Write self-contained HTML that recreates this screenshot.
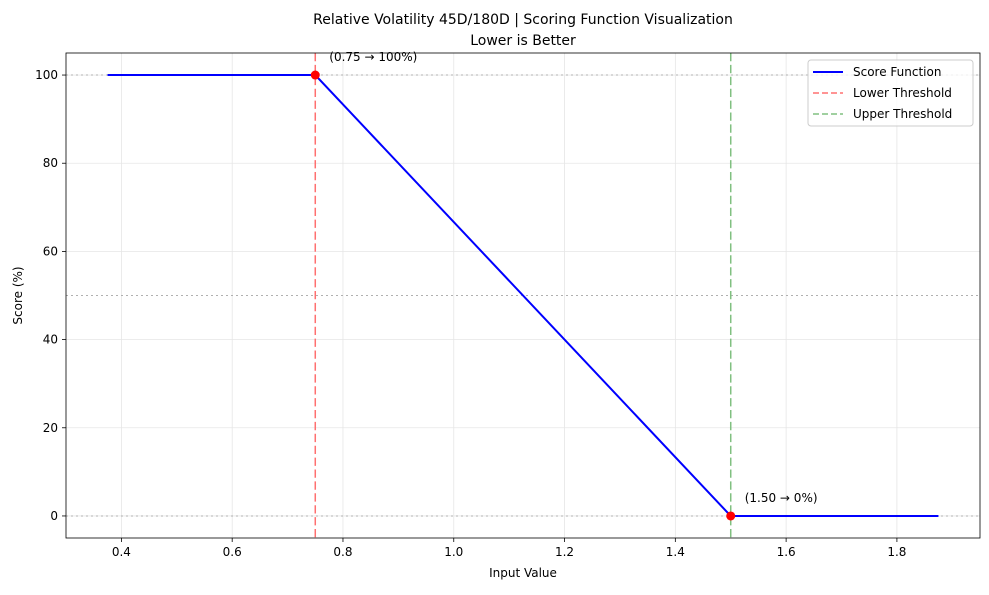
<!DOCTYPE html>
<html><head><meta charset="utf-8"><style>
body{margin:0;background:#fff;font-family:"Liberation Sans","DejaVu Sans",sans-serif}
svg text{font-family:"DejaVu Sans","Liberation Sans",sans-serif}
</style></head><body>
<svg id="c" width="989" height="590" xmlns="http://www.w3.org/2000/svg"></svg>
<script>
const xTicks=[0.4,0.6,0.8,1.0,1.2,1.4,1.6,1.8];
const xTickLabels=["0.4","0.6","0.8","1.0","1.2","1.4","1.6","1.8"];
const yTicks=[0,20,40,60,80,100];
const yTickLabels=["0","20","40","60","80","100"];
const lineX=[0.375,0.75,1.5,1.875];
const lineY=[100,100,0,0];
const pointX=[0.75,1.5];
const pointY=[100,0];
const pointLabels=["(0.75 → 100%)","(1.50 → 0%)"];
const lowerThreshold=0.75, upperThreshold=1.5;
const refLines=[0,50,100];

const L=66,R=980,T=53,B=538;
const xmin=0.3,xmax=1.95,ymin=-5,ymax=105;
const X=v=>L+(v-xmin)/(xmax-xmin)*(R-L);
const Y=v=>B-(v-ymin)/(ymax-ymin)*(B-T);
const svg=document.getElementById('c');
function add(tag,attrs,txt){const e=document.createElementNS('http://www.w3.org/2000/svg',tag);for(const k in attrs)e.setAttribute(k,attrs[k]);if(txt!==undefined)e.textContent=txt;svg.appendChild(e);return e;}

xTicks.forEach((t,i)=>{
 let g=add('line',{x1:X(t),x2:X(t),y1:T,y2:B,stroke:'#e6e6e6','stroke-width':0.8});
 
 let k=add('line',{x1:X(t),x2:X(t),y1:B,y2:B+4,stroke:'#000','stroke-width':0.8});
 
 let l=add('text',{x:X(t),y:B+18,'font-size':12,'text-anchor':'middle'},xTickLabels[i]);
 
});
yTicks.forEach((t,i)=>{
 let g=add('line',{x1:L,x2:R,y1:Y(t),y2:Y(t),stroke:'#e6e6e6','stroke-width':0.8});
 
 let k=add('line',{x1:L-4,x2:L,y1:Y(t),y2:Y(t),stroke:'#000','stroke-width':0.8});
 
 let l=add('text',{x:L-8,y:Y(t)+4,'font-size':12,'text-anchor':'end'},yTickLabels[i]);
 
});
refLines.forEach(v=>{
 let r=add('line',{x1:L,x2:R,y1:Y(v),y2:Y(v),stroke:'#b0b0b0','stroke-width':1,'stroke-dasharray':'2,3'});
 
});
let lt=add('line',{x1:X(lowerThreshold),x2:X(lowerThreshold),y1:T,y2:B,stroke:'#ff7070','stroke-width':1.5,'stroke-dasharray':'8.3,3.6'});

let ut=add('line',{x1:X(upperThreshold),x2:X(upperThreshold),y1:T,y2:B,stroke:'#80c080','stroke-width':1.5,'stroke-dasharray':'8.3,3.6'});

let p=add('polyline',{points:lineX.map((x,i)=>X(x)+','+Y(lineY[i])).join(' '),fill:'none',stroke:'#0000ff','stroke-width':2});

pointX.forEach((x,i)=>{
 let c=add('circle',{cx:X(x),cy:Y(pointY[i]),r:4.5,fill:'#ff0000'});
 
 let t=add('text',{x:X(x)+14,y:Y(pointY[i])-14,'font-size':12},pointLabels[i]);
 
});
let fr=add('rect',{x:L,y:T,width:R-L,height:B-T,fill:'none',stroke:'#000','stroke-width':0.8});

let t1=add('text',{x:(L+R)/2,y:24,'font-size':14,'text-anchor':'middle'},'Relative Volatility 45D/180D | Scoring Function Visualization');

let t2=add('text',{x:(L+R)/2,y:45,'font-size':14,'text-anchor':'middle'},'Lower is Better');

let xl=add('text',{x:(L+R)/2,y:577,'font-size':12,'text-anchor':'middle'},'Input Value');

let yl=add('text',{x:22,y:(T+B)/2,'font-size':12,'text-anchor':'middle',transform:'rotate(-90 22 '+((T+B)/2)+')'},'Score (%)');

let lg=add('rect',{x:808,y:60,width:165,height:66,rx:3,fill:'#fff','fill-opacity':0.8,stroke:'#ccc'});

[['Score Function','#0000ff','',2],['Lower Threshold','#ff7070','6,3',1.5],['Upper Threshold','#80c080','6,3',1.5]].forEach((e,i)=>{
 const y=72+i*21;
 let s=add('line',{x1:813,x2:843,y1:y,y2:y,stroke:e[1],'stroke-width':e[3],'stroke-dasharray':e[2]});
 
 let t=add('text',{x:853,y:y+4,'font-size':12},e[0]);
 
});
</script>
</body></html>
